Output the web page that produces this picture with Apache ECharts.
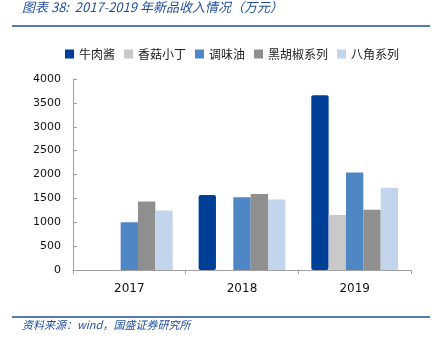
<!DOCTYPE html>
<html><head><meta charset="utf-8">
<script src="https://cdn.jsdelivr.net/npm/echarts@6/dist/echarts.min.js"></script>
<style>html,body{margin:0;padding:0;background:#fff}#c{width:432px;height:340px}</style>
</head><body><div id="c"></div>
<script>
const categories = ['2017', '2018', '2019'];
const seriesNames = ['牛肉酱', '香菇小丁', '调味油', '黑胡椒系列', '八角系列'];
const beef = [0, 1570, 3660];
const mushroom = [0, 0, 1150];
const oil = [1000, 1525, 2040];
const pepper = [1435, 1590, 1260];
const anise = [1245, 1475, 1725];
const yTicks = [0, 500, 1000, 1500, 2000, 2500, 3000, 3500, 4000];
const colors = ['#003f98', '#c9c9c9', '#4f86c6', '#8f8f8f', '#c3d5ec'];
const values = [beef, mushroom, oil, pepper, anise];

const chart = echarts.init(document.getElementById('c'), null, {renderer: 'canvas'});
const cjk = '"Noto Sans CJK SC", sans-serif';
chart.setOption({
  animation: false,
  backgroundColor: '#fff',
  color: colors,
  legend: {
    top: 43, left: 60, itemWidth: 9, itemHeight: 9, itemGap: 9,
    icon: 'rect',
    textStyle: {fontFamily: cjk, fontSize: 12, color: '#222'},
    data: seriesNames
  },
  grid: {left: 73, right: 21, top: 79, bottom: 70},
  xAxis: {
    type: 'category', data: categories,
    axisLine: {lineStyle: {color: '#a0a0a0'}},
    axisTick: {show: true, length: 4, lineStyle: {color: '#a0a0a0'}},
    axisLabel: {fontFamily: 'DejaVu Sans', fontSize: 12, color: '#111', margin: 13}
  },
  yAxis: {
    type: 'value', min: 0, max: 4000, interval: 500,
    splitLine: {show: false},
    axisLine: {show: true, lineStyle: {color: '#a0a0a0'}},
    axisTick: {show: true, inside: true, length: 4, lineStyle: {color: '#a0a0a0'}},
    axisLabel: {fontFamily: 'DejaVu Sans', fontSize: 11, color: '#111', margin: 12,
      formatter: v => yTicks.includes(v) ? String(v) : ''}
  },
  series: seriesNames.map((n, i) => ({
    name: n, type: 'bar', data: values[i], barGap: '0%', barCategoryGap: '23%',
    itemStyle: {color: colors[i], borderRadius: i === 0 ? 2 : 0}
  })),
  graphic: [
    {type: 'text', left: 22, top: 1, style: {text: '图表 38:  2017-2019 年新品收入情况（万元）', font: 'italic 13px "Noto Sans CJK SC", sans-serif', fill: '#1f4e9c'}},
    {type: 'line', shape: {x1: 12, y1: 26, x2: 430, y2: 26}, style: {stroke: '#1f4e9c', lineWidth: 1.5}},
    {type: 'line', shape: {x1: 12, y1: 317, x2: 430, y2: 317}, style: {stroke: '#1f4e9c', lineWidth: 1.5}},
    {type: 'text', left: 22, top: 319, style: {text: '资料来源：wind，国盛证券研究所', font: 'italic 11px "Noto Sans CJK SC", sans-serif', fill: '#1f4e9c'}}
  ]
});
</script></body></html>
